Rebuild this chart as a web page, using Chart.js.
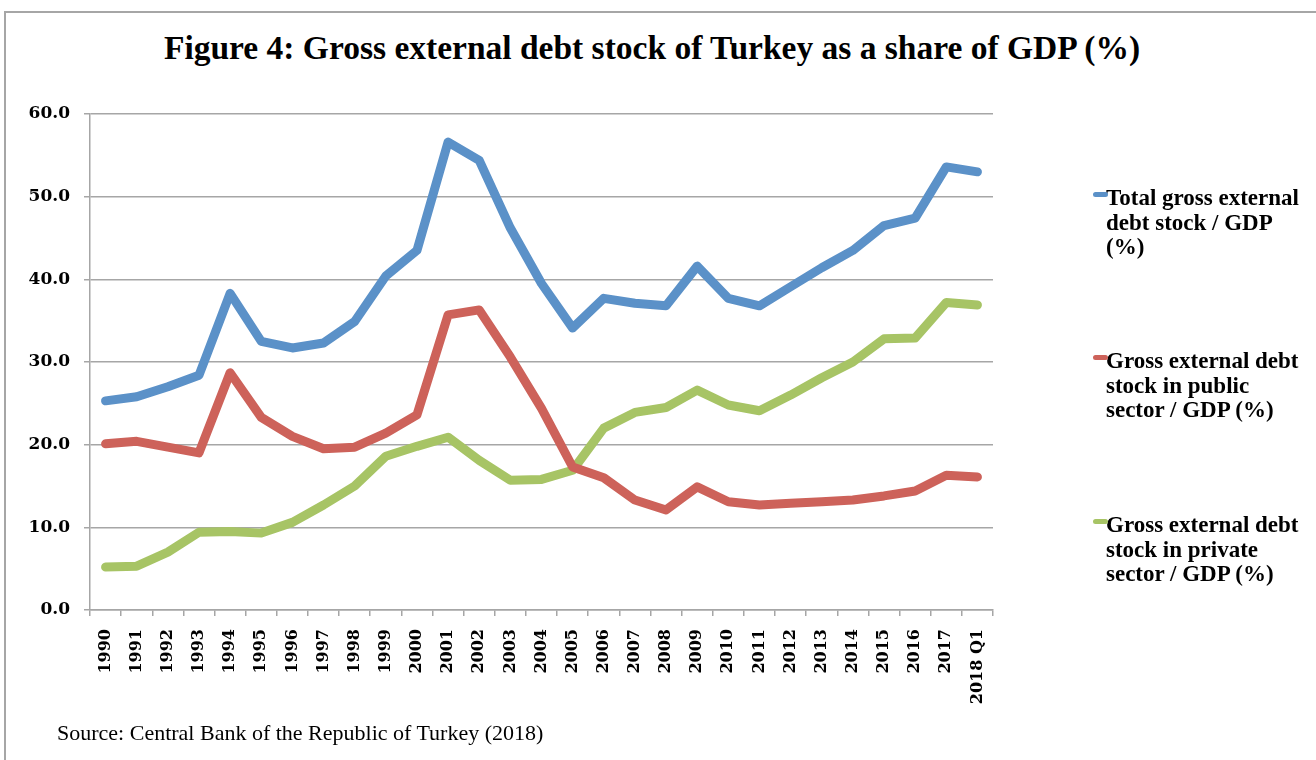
<!DOCTYPE html>
<html>
<head>
<meta charset="utf-8">
<script src="https://cdn.jsdelivr.net/npm/chart.js@4.4.1/dist/chart.umd.min.js"></script>
<style>
  html, body { margin: 0; padding: 0; background: #fff; }
  body { width: 1316px; height: 760px; position: relative; overflow: hidden; }
  #frame { position: absolute; left: 4px; top: 11px; width: 1400px; height: 800px;
           border-left: 2px solid #a6a6a6; border-top: 2px solid #a6a6a6; }
  #title { position: absolute; left: 0; width: 1304px; top: 29px; text-align: center;
           font: bold 33.5px "Liberation Serif", serif; color: #000; white-space: nowrap; }
  #chart { position: absolute; left: 0; top: 0; }
  .legend-item { position: absolute; left: 1106px; font: bold 23px "Liberation Serif", serif;
                 line-height: 24.5px; color: #000; white-space: nowrap; }
  .legend-mark { position: absolute; left: -13px; top: 6px; width: 15px; height: 5px; border-radius: 3px; }
  #source { position: absolute; left: 57px; top: 720px; font: 22px "Liberation Serif", serif; color: #000; }
</style>
</head>
<body>
<div id="frame"></div>
<div id="title">Figure 4: Gross external debt stock of Turkey as a share of GDP (%)</div>
<canvas id="chart" width="1316" height="760"></canvas>
<div id="legend"></div>
<div id="source">Source: Central Bank of the Republic of Turkey (2018)</div>
<script>
const years = ['1990', '1991', '1992', '1993', '1994', '1995', '1996', '1997', '1998', '1999',
  '2000', '2001', '2002', '2003', '2004', '2005', '2006', '2007', '2008', '2009',
  '2010', '2011', '2012', '2013', '2014', '2015', '2016', '2017', '2018 Q1'];

const totalDebt = [25.3, 25.8, 27.0, 28.4, 38.3, 32.5, 31.7, 32.3, 34.9, 40.4,
  43.5, 56.6, 54.4, 46.2, 39.5, 34.1, 37.7, 37.1, 36.8, 41.6,
  37.7, 36.8, 39.1, 41.4, 43.5, 46.5, 47.4, 53.6, 53.0];

const publicDebt = [20.1, 20.4, 19.7, 19.0, 28.7, 23.3, 21.0, 19.5, 19.7, 21.4,
  23.6, 35.7, 36.3, 30.6, 24.4, 17.3, 16.0, 13.3, 12.1, 14.9,
  13.1, 12.7, 12.9, 13.1, 13.3, 13.8, 14.4, 16.3, 16.1];

const privateDebt = [5.2, 5.3, 7.0, 9.4, 9.5, 9.3, 10.6, 12.7, 15.0, 18.6,
  19.8, 20.9, 18.1, 15.7, 15.8, 16.9, 22.0, 23.9, 24.5, 26.6,
  24.8, 24.1, 26.0, 28.1, 30.0, 32.8, 32.9, 37.2, 36.9];

const seriesNames = ['Total gross external debt stock / GDP (%)',
  'Gross external debt stock in public sector / GDP (%)',
  'Gross external debt stock in private sector / GDP (%)'];
// wrapped the way the original legend wraps
const legendLines = [
  ['Total gross external', 'debt stock / GDP', '(%)'],
  ['Gross external debt', 'stock in public', 'sector / GDP (%)'],
  ['Gross external debt', 'stock in private', 'sector / GDP (%)']
];
const seriesColors = ['#5b91c8', '#cd625a', '#a7c465'];
const legendTops = [186, 349, 513];

const gridGray = '#a6a6a6';
const tickFont = { family: 'DejaVu Serif', weight: 'bold', size: 17 };

function makeSet(i, data) {
  return {
    label: seriesNames[i],
    data: data,
    borderColor: seriesColors[i],
    backgroundColor: seriesColors[i],
    borderWidth: 9,
    pointRadius: 0,
    tension: 0,
    borderCapStyle: 'round',
    borderJoinStyle: 'round'
  };
}

new Chart(document.getElementById('chart'), {
  type: 'line',
  data: {
    labels: years,
    datasets: [makeSet(0, totalDebt), makeSet(1, publicDebt), makeSet(2, privateDebt)]
  },
  options: {
    responsive: false,
    animation: false,
    layout: { padding: { left: 0, right: 323, top: 114, bottom: 0 } },
    plugins: { legend: { display: false }, title: { display: false }, tooltip: { enabled: false } },
    scales: {
      x: {
        offset: true,
        afterFit: (s) => { s.height = 150; },
        grid: { offset: true, drawOnChartArea: false, drawTicks: true, tickLength: 6,
                color: gridGray, lineWidth: 1.5 },
        border: { color: gridGray, width: 1.5 },
        ticks: { autoSkip: false, minRotation: 90, maxRotation: 90, padding: 13, color: '#000',
                 font: { family: 'DejaVu Serif', weight: 'bold', size: 16 } }
      },
      y: {
        min: 0, max: 60,
        afterFit: (s) => { s.width = 90; },
        grid: { color: gridGray, lineWidth: 1.5, tickLength: 6 },
        border: { color: gridGray, width: 1.5 },
        ticks: { stepSize: 10, padding: 14, color: '#000', font: tickFont,
                 callback: (v) => v.toFixed(1) }
      }
    }
  }
});

// legend built from the series names and colours
const legend = document.getElementById('legend');
legendLines.forEach((lines, i) => {
  const item = document.createElement('div');
  item.className = 'legend-item';
  item.style.top = legendTops[i] + 'px';
  item.innerHTML = lines.join('<br>');
  const mark = document.createElement('span');
  mark.className = 'legend-mark';
  mark.style.background = seriesColors[i];
  item.appendChild(mark);
  legend.appendChild(item);
});
</script>
</body>
</html>
